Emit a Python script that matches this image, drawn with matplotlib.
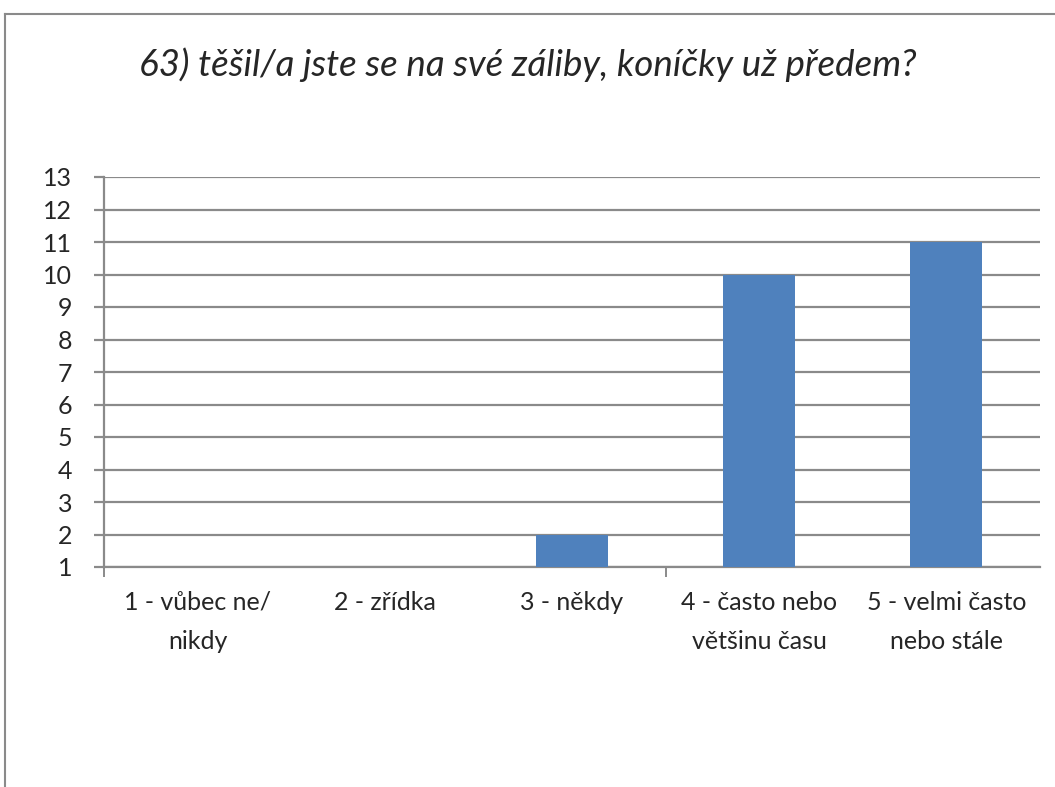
import matplotlib
matplotlib.use("Agg")
import matplotlib.pyplot as plt
from matplotlib.lines import Line2D

# Survey answers for question 63
categories = ["1 - vůbec ne/\nnikdy", "2 - zřídka", "3 - někdy",
              "4 - často nebo\nvětšinu času", "5 - velmi často\nnebo stále"]
counts = [0, 0, 2, 10, 11]
y_ticks = list(range(1, 14))
title = "63) těšil/a jste se na své záliby, koníčky už předem?"

bar_color = "#4F81BD"
grid_color = "#8A8A8A"
text_color = "#262626"

plt.rcParams["font.family"] = ["Lato", "DejaVu Sans"]

W, H = 1055, 787
fig = plt.figure(figsize=(W / 100, H / 100), dpi=100)
fig.patch.set_facecolor("white")

# Chart-area frame (top and left edges visible)
fig.add_artist(Line2D([5 / W, 5 / W], [0, 1 - 14 / H], transform=fig.transFigure,
                      color="#8A8A8A", lw=1.5))
fig.add_artist(Line2D([5 / W, 1], [1 - 14 / H, 1 - 14 / H], transform=fig.transFigure,
                      color="#8A8A8A", lw=1.5))

left, right, top, bottom = 104, 1040, 177, 567
ax = fig.add_axes([left / W, 1 - bottom / H, (right - left) / W, (bottom - top) / H])

x = list(range(len(categories)))
ax.bar(x, counts, width=0.385, color=bar_color, zorder=3)

ax.set_xlim(-0.5, len(categories) - 0.5)
ax.set_ylim(1, 13)
ax.set_yticks(y_ticks)
ax.yaxis.grid(True, color=grid_color, lw=1.6, zorder=1)
ax.set_axisbelow(True)

for s in ["top", "right", "bottom"]:
    ax.spines[s].set_visible(False)
ax.spines["left"].set_color(grid_color)
ax.spines["left"].set_linewidth(1.6)
ax.axhline(1, color=grid_color, lw=1.6, zorder=2, clip_on=False)

ax.tick_params(axis="y", direction="out", length=7, width=1.6, color=grid_color,
               labelsize=18, labelcolor=text_color, pad=16)
ax.set_xticks(x)
ax.set_xticklabels(categories, fontsize=18, color=text_color, linespacing=1.85)
ax.tick_params(axis="x", length=0, pad=17)
ax.set_xticks([-0.5, 2.5], minor=True)
ax.tick_params(axis="x", which="minor", direction="out", length=7, width=1.4,
               color=grid_color)

fig.text(528 / W, 1 - 65 / H, title, ha="center", va="center", fontsize=26.5,
         style="italic", color=text_color)

fig.savefig("out.png", dpi=100, facecolor="white")
